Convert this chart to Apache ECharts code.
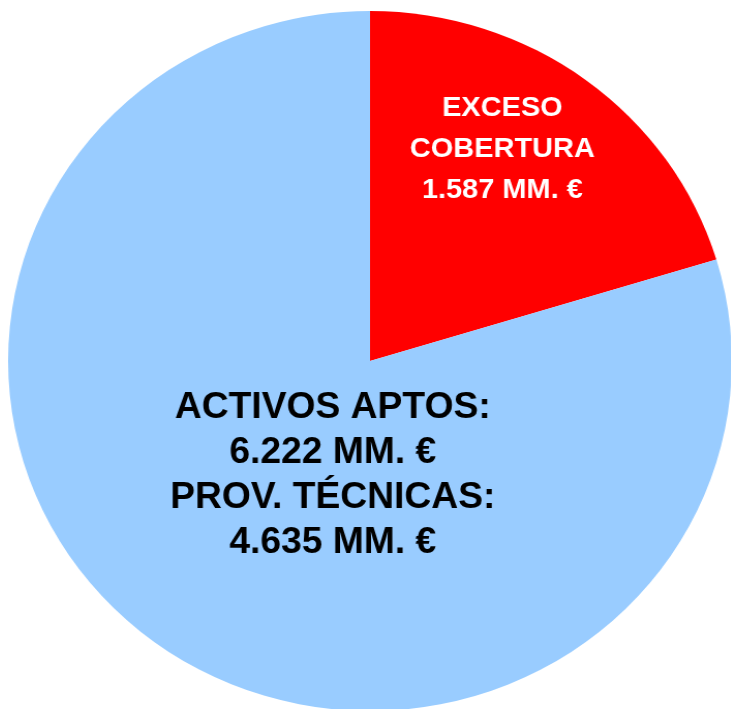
<!DOCTYPE html>
<html>
<head>
<meta charset="utf-8">
<script src="https://cdn.jsdelivr.net/npm/echarts@6/dist/echarts.min.js"></script>
<style>
  html, body { margin: 0; padding: 0; background: #fff; overflow: hidden; }
  /* original chart is a slightly wide ellipse, stretch horizontally */
  #chart { width: 731px; height: 709px; transform: scaleX(1.034); transform-origin: 370px 50%; }
</style>
</head>
<body>
<div id="chart"></div>
<script>
// data (MM. €)
var names = ['EXCESO\nCOBERTURA', 'ACTIVOS APTOS'];
var values = [1587, 6222];
var provTecnicas = 4635;
var colors = ['#ff0000', '#99ccff'];

function fmt(v) {
    return (v / 1000).toFixed(3);
}

var labelTexts = [
    names[0] + '\n' + fmt(values[0]) + ' MM. €',
    names[1] + ':\n' + fmt(values[1]) + ' MM. €\nPROV. TÉCNICAS:\n' + fmt(provTecnicas) + ' MM. €'
];

// where the labels sit (pre-stretch pixel space)
var labelPos = [[498, 149], [334, 476]];
var labelStyle = [
    { color: '#ffffff', fontSize: 28, lineHeight: 41 },
    { color: '#000000', fontSize: 36, lineHeight: 45 }
];

var myChart = echarts.init(document.getElementById('chart'));

var seriesData = values.map(function (v, i) {
    return {
        name: names[i],
        value: v,
        itemStyle: { color: colors[i] },
        label: {
            show: true,
            position: 'inside',
            formatter: labelTexts[i],
            fontFamily: 'Liberation Sans',
            fontWeight: 'bold',
            fontSize: labelStyle[i].fontSize,
            lineHeight: labelStyle[i].lineHeight,
            color: labelStyle[i].color,
            align: 'center',
            verticalAlign: 'middle',
            textBorderWidth: 0
        }
    };
});

var option = {
    animation: false,
    series: [{
        type: 'pie',
        silent: true,
        center: [370, 361],
        radius: 350,
        startAngle: 90,
        clockwise: true,
        itemStyle: { borderWidth: 0 },
        labelLine: { show: false },
        labelLayout: function (params) {
            var p = labelPos[params.dataIndex];
            return { x: p[0], y: p[1], align: 'center', verticalAlign: 'middle' };
        },
        data: seriesData
    }]
};

myChart.setOption(option);
</script>
</body>
</html>
